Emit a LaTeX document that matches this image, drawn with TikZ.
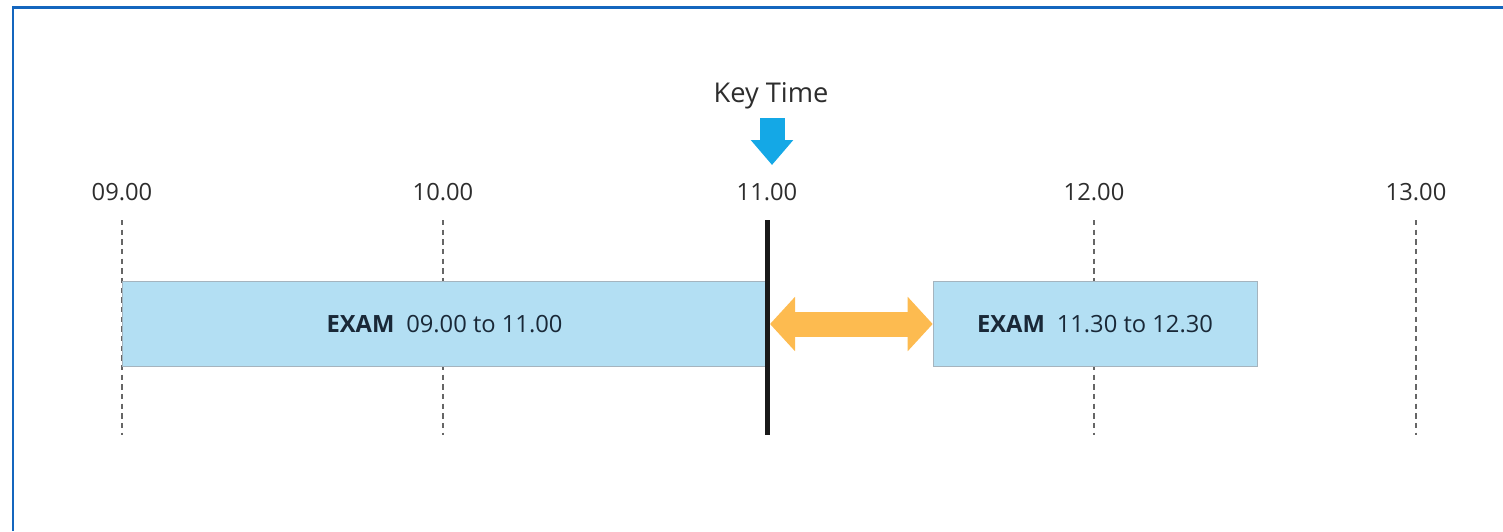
\documentclass[tikz,border=0pt]{standalone}
\usepackage{fontspec}
\setmainfont{Open Sans}
\usetikzlibrary{arrows.meta, positioning}

\definecolor{frameblue}{RGB}{20,102,190}
\definecolor{examblue}{RGB}{179,223,243}
\definecolor{boxline}{RGB}{165,180,190}
\definecolor{examtext}{RGB}{25,40,55}
\definecolor{labelgray}{RGB}{45,45,45}
\definecolor{keyblue}{RGB}{20,168,230}
\definecolor{gaporange}{RGB}{253,187,80}

\begin{document}
\begin{tikzpicture}[
    x=0.02cm, y=-0.02cm,
    hour/.style={text=labelgray, font=\fontsize{13.5}{16}\selectfont, inner sep=0pt},
    tick/.style={dash pattern=on 3pt off 2.5pt, gray!80!black, line width=0.6pt},
    exam/.style={draw=boxline, fill=examblue, minimum height=1.7cm, inner sep=0pt,
        text=examtext, font=\fontsize{13.5}{16}\selectfont},
    keyline/.style={line width=0.1cm, black!90},
    keyarrow/.style={line width=0.5cm, keyblue, -{Triangle[width=0.82cm, length=0.5cm]}},
    gaparrow/.style={line width=0.5cm, gaporange,
        {Triangle[width=1.06cm, length=0.5cm]}-{Triangle[width=1.06cm, length=0.5cm]}},
    frame/.style={line width=0.06cm, frameblue}
]
    \useasboundingbox (0,0) rectangle (1503,531);

    % frame (open at right and bottom)
    \draw[frame] (13,531) -- (13,7) -- (1503,7);

    % hours and dashed ticks
    \foreach \h/\x in {09/122, 10/443, 11/767, 12/1094, 13/1416} {
        \node[hour] (h\h) at (\x,192) {\h.00};
        \coordinate (t\h) at (\x,220);
        \coordinate (b\h) at (\x,435);
        \draw[tick] (t\h) -- (b\h);
    }

    % exams
    \node[exam, minimum width=12.9cm] (exam1) at (444.5,324)
        {\textbf{EXAM}\enspace 09.00 to 11.00};
    \node[exam, minimum width=6.48cm] (exam2) at (1095,324)
        {\textbf{EXAM}\enspace 11.30 to 12.30};

    % key time
    \node[hour, font=\fontsize{15.5}{18}\selectfont] (key) at (771,96) {Key Time};
    \coordinate (kt) at (772,118);
    \coordinate (kb) at (772,165);
    \draw[keyarrow] (kt) -- (kb);
    \draw[keyline] (t11) -- (b11);

    % gap between exams
    \coordinate (gap) at (770,324);
    \draw[gaparrow] (gap) -- (gap -| exam2.west);

\end{tikzpicture}
\end{document}
